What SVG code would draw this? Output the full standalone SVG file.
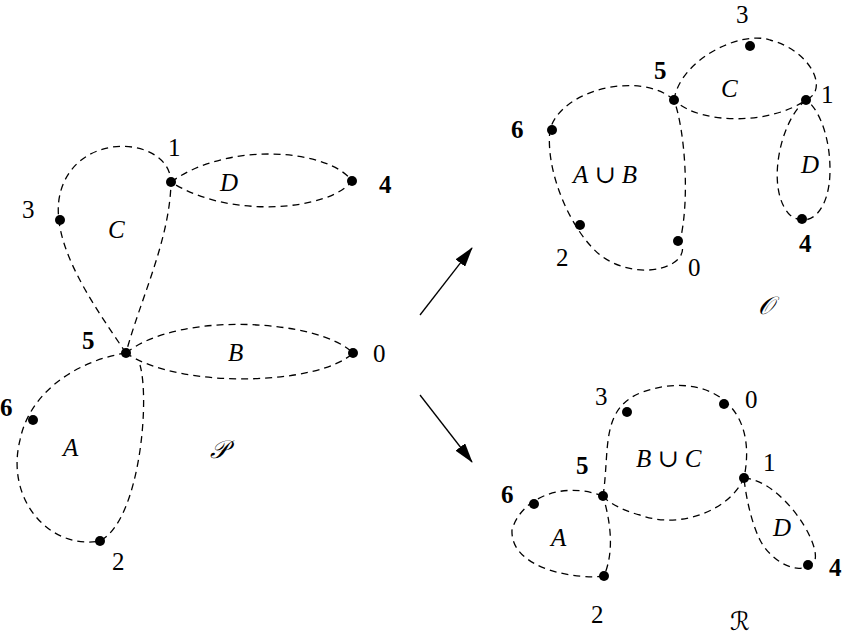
<svg xmlns="http://www.w3.org/2000/svg" width="848" height="636" viewBox="0 0 848 636">
<style>
.l{fill:none;stroke:#000;stroke-width:1.3;stroke-dasharray:7,5}
.p{fill:#000}
text{font-family:"Liberation Serif","DejaVu Serif",serif;font-size:25px;fill:#000}
.b{font-weight:bold}
.i{font-style:italic}
.s{font-family:"DejaVu Sans","Noto Sans",serif;font-style:italic}
</style>
<defs><marker id="ar" markerWidth="20" markerHeight="12" refX="19" refY="6" orient="auto" markerUnits="userSpaceOnUse" viewBox="0 0 20 12"><path d="M0,0L20,6L0,12z"/></marker></defs>
<rect width="848" height="636" fill="#fff"/>
<g id="connectors">
<path class="l" d="M126,353 C 90,300 40,230 65,180 C 90,130 170,140 171,182 C 170,240 140,300 126,353"/>
<path class="l" d="M171,182 C 230,140 330,150 352,181 C 330,210 230,220 171,182"/>
<path class="l" d="M126,353 C 180,310 320,320 353,353 C 320,385 180,390 126,353"/>
<path class="l" d="M126,353 C 80,360 30,390 20,440 C 5,500 50,550 100,541 C 140,520 150,400 140,365"/>
<path class="l" d="M674,100 C 680,60 740,30 770,40 C 810,50 830,90 806,100 C 770,125 700,125 674,100"/>
<path class="l" d="M674,100 C 640,70 560,90 550,130 C 545,170 570,230 600,255 C 640,285 695,265 680,241 C 690,200 685,130 674,100"/>
<path class="l" d="M806,100 C 780,120 765,190 790,215 C 810,230 830,210 830,170 C 830,130 815,105 806,100"/>
<path class="l" d="M603,496 C 610,450 600,410 640,393 C 700,370 760,400 744,478 C 730,510 680,530 640,515 C 620,510 605,500 603,496"/>
<path class="l" d="M603,496 C 560,480 520,500 512,530 C 510,570 580,580 604,576 C 615,550 610,520 603,496"/>
<path class="l" d="M744,478 C 780,480 820,540 815,560 C 800,580 770,560 760,540 C 750,520 745,490 744,478"/>
<line x1="420" y1="315" x2="472" y2="248" stroke="#000" stroke-width="1.3" marker-end="url(#ar)"/>
<line x1="420" y1="395" x2="472" y2="462" stroke="#000" stroke-width="1.3" marker-end="url(#ar)"/>
</g>
<g id="P">
<circle class="p" cx="126" cy="353" r="5"/><circle class="p" cx="171" cy="182" r="5"/><circle class="p" cx="60" cy="220" r="5"/><circle class="p" cx="352" cy="181" r="5"/><circle class="p" cx="353" cy="353" r="5"/><circle class="p" cx="33" cy="420" r="5"/><circle class="p" cx="100" cy="541" r="5"/>
<text x="168" y="156">1</text><text x="22" y="218">3</text><text x="379" y="193" class="b">4</text><text x="82" y="349" class="b">5</text><text x="373" y="362">0</text><text x="0" y="416" class="b">6</text><text x="112" y="570">2</text>
<text x="108" y="238" class="i">C</text><text x="220" y="191" class="i">D</text><text x="228" y="361" class="i">B</text><text x="63" y="456" class="i">A</text><text x="210" y="458" class="s">𝒫</text>
</g>
<g id="O">
<circle class="p" cx="674" cy="100" r="5"/><circle class="p" cx="750" cy="46" r="5"/><circle class="p" cx="806" cy="100" r="5"/><circle class="p" cx="552" cy="130" r="5"/><circle class="p" cx="580" cy="225" r="5"/><circle class="p" cx="678" cy="241" r="5"/><circle class="p" cx="802" cy="219" r="5"/>
<text x="736" y="23">3</text><text x="654" y="79" class="b">5</text><text x="821" y="103">1</text><text x="511" y="138" class="b">6</text><text x="556" y="266">2</text><text x="688" y="276">0</text><text x="799" y="252" class="b">4</text>
<text x="721" y="97" class="i">C</text><text x="801" y="173" class="i">D</text><text x="573" y="183"><tspan class="i">A</tspan> ∪ <tspan class="i">B</tspan></text><text x="758" y="314" class="s">𝒪</text>
</g>
<g id="R">
<circle class="p" cx="627" cy="412" r="5"/><circle class="p" cx="724" cy="404" r="5"/><circle class="p" cx="603" cy="496" r="5"/><circle class="p" cx="744" cy="478" r="5"/><circle class="p" cx="534" cy="504" r="5"/><circle class="p" cx="604" cy="576" r="5"/><circle class="p" cx="808" cy="565" r="5"/>
<text x="595" y="405">3</text><text x="745" y="408">0</text><text x="576" y="474" class="b">5</text><text x="763" y="471">1</text><text x="501" y="503" class="b">6</text><text x="591" y="623">2</text><text x="829" y="576" class="b">4</text>
<text x="636" y="467"><tspan class="i">B</tspan> ∪ <tspan class="i">C</tspan></text><text x="551" y="546" class="i">A</text><text x="773" y="536" class="i">D</text><text x="730" y="630" class="s">ℛ</text>
</g>
</svg>
